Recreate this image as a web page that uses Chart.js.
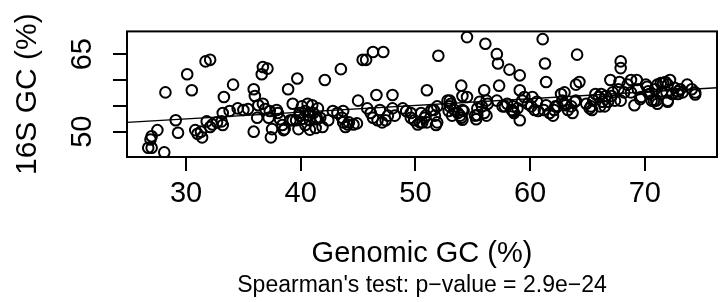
<!DOCTYPE html>
<html>
<head>
<meta charset="utf-8">
<script src="https://cdn.jsdelivr.net/npm/chart.js@4/dist/chart.umd.min.js"></script>
<style>
  html, body { margin: 0; padding: 0; background: #fff; }
  #wrap { width: 728px; height: 302px; position: relative; }
</style>
</head>
<body>
<div id="wrap"><canvas id="gcChart"></canvas></div>
<script>
// genomic GC (%) of each genome, x
const genomicGC = [
  26.7, 27.0, 26.9, 27.0, 27.5, 28.1, 28.2, 29.1, 29.3, 30.1, 30.5, 30.8, 31.0, 31.3, 31.4, 31.7, 32.1, 31.8, 32.1, 32.3,
  32.7, 33.1, 33.2, 33.2, 33.3,
  33.8, 34.1, 34.5, 35.0, 35.4, 35.9, 36.0, 35.9, 36.2, 36.3, 36.7, 36.9, 36.6, 36.7, 37.1, 37.2, 37.3, 37.5, 37.4, 37.9,
  38.0, 38.2, 38.4, 38.5, 38.6, 38.9, 39.3, 39.7, 39.1, 39.3, 39.6, 39.8, 39.9, 40.1, 40.2, 40.4, 40.6, 40.7, 40.8, 41.0,
  41.1, 41.3, 41.4, 41.7, 41.9, 42.1, 42.4, 42.8, 43.2, 43.6, 43.7, 44.1, 44.6, 44.9, 43.5, 45.0, 45.4, 39.9, 40.4, 41.3,
  41.5, 40.8, 43.7, 43.9, 44.2,
  45.7, 46.3, 47.2, 46.6, 48.0, 45.8, 46.1, 46.3, 46.7, 46.9, 47.1, 47.4, 47.6, 48.0, 48.2, 48.9, 49.2, 49.6, 49.9, 50.2,
  50.4, 50.5, 50.8, 51.0, 51.0, 51.4, 51.7, 51.8, 51.9, 52.0, 52.8, 53.0, 53.1, 53.2, 53.4, 53.7, 54.0, 54.1, 54.0, 54.1,
  54.5, 54.5, 49.6, 50.6, 50.9, 51.6, 51.9, 53.0, 52.9, 53.9, 54.2, 54.1,
  55.2, 55.3, 55.6, 55.8, 56.0, 56.0, 56.2, 56.2, 56.1, 57.1, 57.2, 57.1, 57.3, 57.8, 58.0, 58.4, 58.5, 58.6, 58.9, 59.1,
  58.2, 59.1, 59.1, 59.3, 59.5, 59.8, 60.1, 60.2, 60.4, 60.6, 61.1, 61.3, 61.4, 61.4, 61.7, 62.0, 62.1, 62.4, 62.7, 63.0,
  63.0, 63.3, 63.6, 63.7, 63.9, 64.0, 64.3, 64.1, 55.4, 55.4, 56.3, 57.6, 58.5, 60.7, 61.2, 62.2, 62.8, 63.1, 64.0,
  64.9, 65.3, 65.5, 65.7, 66.0, 66.3, 66.6, 65.2, 65.4, 66.2, 66.5, 66.8, 67.1, 67.2, 67.4, 67.0, 67.9, 67.9, 67.8, 68.2,
  68.5, 68.8, 69.3, 69.1, 69.4, 69.7, 70.2, 70.4, 70.6, 70.9, 71.0, 71.1, 71.5, 71.6, 71.8, 71.9, 72.0, 72.2, 72.0, 72.4,
  72.6, 72.9, 73.1, 73.3, 73.7, 74.1, 74.4, 67.7, 68.8, 67.9, 69.6, 70.8, 71.1, 72.0, 70.1, 70.3, 71.4, 72.9, 74.4, 66.1
];
// 16S rRNA GC (%) of the same genomes, y
const rrnaGC = [
  46.9, 46.9, 48.5, 49.1, 50.3, 46.0, 57.6, 52.2, 49.8, 61.1, 58.0, 50.3, 49.6, 50.0, 48.9, 63.6, 63.9, 52.0, 50.9, 51.4,
  51.8, 52.0, 51.3, 53.6, 56.7,
  54.0, 59.1, 54.5, 54.2, 54.4, 58.2, 56.9, 50.0, 52.7, 55.1, 55.4, 54.4, 61.1, 62.5, 62.2, 52.7, 54.0, 50.5, 48.9, 54.2,
  53.6, 52.4, 51.3, 50.3, 50.5, 58.2, 55.4, 60.3, 52.2, 52.2, 52.2, 50.5, 53.6, 54.9, 52.5, 51.3, 55.4, 53.1, 52.2, 55.1,
  53.6, 52.4, 52.7, 52.7, 50.9, 60.0, 52.2, 54.0, 53.6, 52.7, 54.0, 51.4, 51.4, 51.6, 62.1, 56.0, 63.9, 53.1, 54.0, 50.7,
  54.5, 50.4, 51.8, 50.9, 51.8,
  63.9, 65.4, 65.4, 57.1, 57.1, 54.5, 53.6, 52.7, 52.2, 54.2, 51.8, 52.2, 53.1, 54.5, 53.1, 54.5, 54.0, 52.7, 52.2, 51.4,
  51.8, 53.6, 52.7, 51.8, 58.0, 54.2, 53.1, 51.3, 54.9, 64.7, 56.0, 54.9, 55.4, 53.1, 54.2, 53.6, 52.7, 54.2, 58.9, 56.9,
  56.7, 68.3, 53.6, 51.8, 53.1, 54.2, 51.8, 56.0, 54.0, 53.1, 54.0, 52.3,
  53.1, 52.4, 55.8, 54.9, 53.6, 58.0, 56.0, 53.1, 67.0, 65.0, 63.2, 56.0, 58.9, 54.9, 55.4, 54.2, 54.9, 53.6, 54.5, 52.2,
  62.0, 60.9, 58.0, 56.0, 56.7, 55.4, 54.9, 56.7, 54.2, 55.8, 67.9, 63.2, 59.6, 55.1, 53.6, 53.1, 54.2, 54.9, 57.3, 57.6,
  55.4, 54.2, 54.9, 53.6, 55.8, 59.1, 59.6, 64.9, 54.5, 53.2, 55.4, 54.9, 54.0, 54.0, 54.2, 54.9, 56.0, 55.1, 56.0,
  55.4, 54.9, 56.0, 57.3, 56.7, 55.8, 56.9, 54.5, 54.2, 57.3, 54.9, 55.8, 56.9, 57.6, 56.0, 60.0, 63.6, 62.3, 59.6, 57.6,
  59.1, 60.0, 60.0, 55.1, 58.2, 56.7, 58.7, 57.3, 56.0, 58.2, 56.0, 59.1, 57.8, 59.4, 59.6, 57.6, 59.1, 60.0, 56.0, 57.3,
  58.5, 57.3, 58.2, 57.6, 59.1, 58.2, 57.6, 58.2, 57.6, 56.0, 56.3, 56.0, 55.4, 55.8, 59.1, 57.8, 59.4, 57.8, 57.2, 54.9
];
// least-squares line, at the two ends of the x range
const fitX = [24.85, 76.3];
const fitY = [51.8, 58.5];

const xTicks = [30, 40, 50, 60, 70];
const yTicks = [50, 55, 60, 65];
const yTickLabels = ['50', '', '', '65'];

const xRange = [24.85, 76.3];
const yRange = [45.1, 69.4];

const FONT = 'Liberation Sans, Arial, Helvetica, sans-serif';

const points = genomicGC.map((x, i) => ({ x: x, y: rrnaGC[i] }));
const fitLine = fitX.map((x, i) => ({ x: x, y: fitY[i] }));

// box round the plotting region, like R's box()
const boxPlugin = {
    id: 'plotBox',
    afterDatasetsDraw(chart) {
        const a = chart.chartArea;
        const ctx = chart.ctx;
        ctx.save();
        ctx.strokeStyle = '#000';
        ctx.lineWidth = 2;
        ctx.strokeRect(a.left, a.top, a.right - a.left, a.bottom - a.top);
        ctx.restore();
    }
};

new Chart(document.getElementById('gcChart'), {
    type: 'scatter',
    data: {
        datasets: [{
            data: points,
            pointStyle: 'circle',
            pointRadius: 5.3,
            pointHoverRadius: 5.3,
            borderWidth: 2,
            borderColor: '#000',
            backgroundColor: 'rgba(0,0,0,0)'
        }, {
            type: 'line',
            data: fitLine,
            borderColor: '#000',
            borderWidth: 1.4,
            pointRadius: 0,
            fill: false
        }]
    },
    options: {
        responsive: true,
        maintainAspectRatio: false,
        animation: false,
        events: [],
        layout: { padding: { top: 23, right: 11, left: 0, bottom: 0 } },
        plugins: {
            legend: { display: false },
            tooltip: { enabled: false }
        },
        scales: {
            x: {
                type: 'linear',
                position: 'bottom',
                weight: 0,
                min: xRange[0],
                max: xRange[1],
                afterBuildTicks: s => { s.ticks = xTicks.map(v => ({ value: v })); },
                afterFit: s => { s.height = 114; },
                grid: { drawOnChartArea: false, drawTicks: true, tickLength: 14, color: '#000', lineWidth: 2 },
                border: { display: false },
                ticks: { color: '#000', font: { family: FONT, size: 29 }, padding: 6, maxRotation: 0, autoSkip: false },
                title: {
                    display: true,
                    text: 'Genomic GC (%)',
                    color: '#000',
                    font: { family: FONT, size: 29 },
                    padding: { top: 0, bottom: 0 }
                }
            },
            // second bottom axis only carries the test line, so it centres under the plot
            note: {
                type: 'linear',
                position: 'bottom',
                weight: 1,
                min: xRange[0],
                max: xRange[1],
                afterFit: s => { s.height = 31; },
                grid: { display: false },
                border: { display: false },
                ticks: { display: false },
                title: {
                    display: true,
                    text: "Spearman's test: p\u2212value = 2.9e\u221224",
                    color: '#000',
                    font: { family: FONT, size: 23 },
                    padding: { top: 0, bottom: 3 }
                }
            },
            y: {
                type: 'linear',
                min: yRange[0],
                max: yRange[1],
                afterBuildTicks: s => { s.ticks = yTicks.map(v => ({ value: v })); },
                afterFit: s => { s.width = 127; },
                grid: { drawOnChartArea: false, drawTicks: true, tickLength: 14, color: '#000', lineWidth: 2 },
                border: { display: false },
                ticks: {
                    color: '#000',
                    font: { family: FONT, size: 29 },
                    minRotation: 90,
                    maxRotation: 90,
                    crossAlign: 'center',
                    padding: 14,
                    autoSkip: false,
                    callback: (v, i) => yTickLabels[i]
                },
                title: {
                    display: true,
                    text: '16S GC (%)',
                    color: '#000',
                    font: { family: FONT, size: 30 },
                    padding: { top: 10, bottom: 0 }
                }
            }
        }
    },
    plugins: [boxPlugin]
});
</script>
</body>
</html>
